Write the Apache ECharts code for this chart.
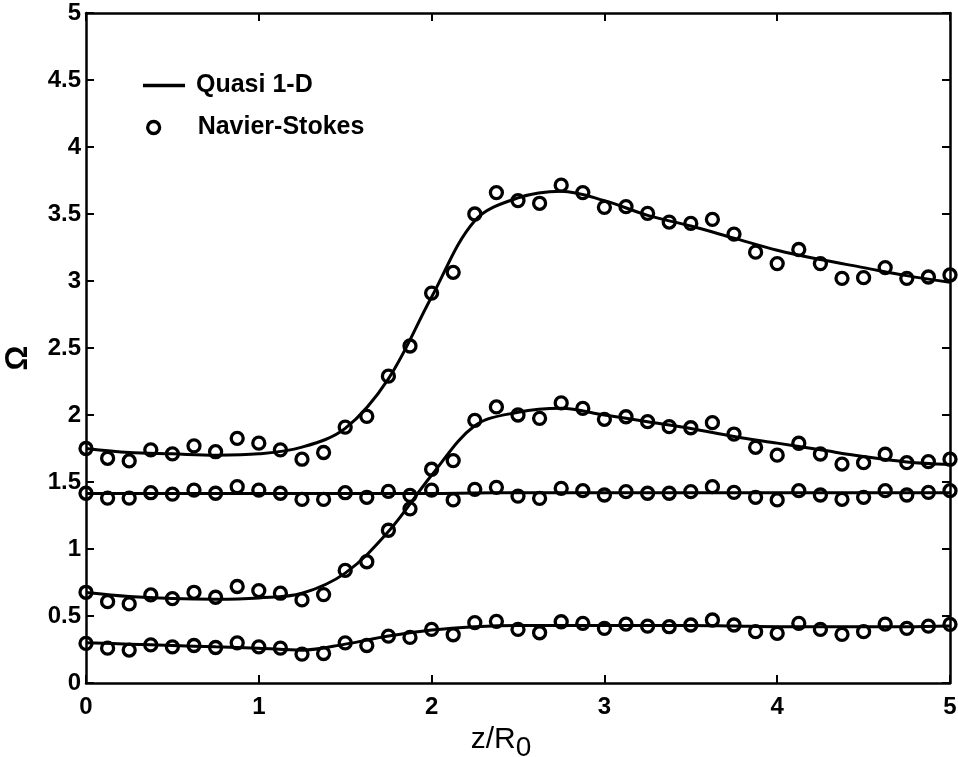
<!DOCTYPE html>
<html>
<head>
<meta charset="utf-8">
<script src="https://cdn.jsdelivr.net/npm/echarts@6/dist/echarts.min.js"></script>
<style>
html,body{margin:0;padding:0;background:#fff;}
#chart{width:958px;height:757px;}
</style>
</head>
<body>
<div id="chart"></div>
<script>
// Tick labels
const xTicks = [0, 1, 2, 3, 4, 5];
const yTicks = [0, 0.5, 1, 1.5, 2, 2.5, 3, 3.5, 4, 4.5, 5];

// Quasi 1-D curves (z/R0 sampled at 0.25)
const lineZ = [0, 0.25, 0.5, 0.75, 1, 1.25, 1.5, 1.75, 2, 2.25, 2.5, 2.75, 3, 3.25, 3.5, 3.75, 4, 4.25, 4.5, 4.75, 5];
const quasiTop = [1.75, 1.72, 1.71, 1.70, 1.71, 1.76, 1.90, 2.27, 2.88, 3.45, 3.62, 3.67, 3.60, 3.49, 3.41, 3.32, 3.23, 3.16, 3.10, 3.04, 2.99];
const quasiSecond = [0.675, 0.645, 0.63, 0.625, 0.635, 0.67, 0.82, 1.13, 1.55, 1.92, 2.02, 2.05, 2.00, 1.95, 1.90, 1.84, 1.79, 1.74, 1.69, 1.65, 1.63];
const quasiThird = [1.415, 1.415, 1.415, 1.415, 1.415, 1.415, 1.415, 1.415, 1.415, 1.418, 1.42, 1.42, 1.42, 1.42, 1.42, 1.42, 1.42, 1.42, 1.42, 1.42, 1.42];
const quasiBottom = [0.30, 0.29, 0.28, 0.27, 0.26, 0.245, 0.29, 0.35, 0.395, 0.42, 0.43, 0.43, 0.43, 0.43, 0.43, 0.425, 0.42, 0.42, 0.42, 0.42, 0.425];

// Navier-Stokes points (z/R0 sampled at 0.125)
const nsZ = [0, 0.125, 0.25, 0.375, 0.5, 0.625, 0.75, 0.875, 1, 1.125, 1.25, 1.375, 1.5, 1.625, 1.75, 1.875, 2, 2.125, 2.25, 2.375, 2.5, 2.625, 2.75, 2.875, 3, 3.125, 3.25, 3.375, 3.5, 3.625, 3.75, 3.875, 4, 4.125, 4.25, 4.375, 4.5, 4.625, 4.75, 4.875, 5];
const nsTop = [1.75, 1.677, 1.657, 1.74, 1.71, 1.77, 1.726, 1.826, 1.79, 1.74, 1.67, 1.72, 1.91, 1.99, 2.29, 2.515, 2.91, 3.065, 3.50, 3.66, 3.60, 3.58, 3.715, 3.66, 3.55, 3.555, 3.505, 3.44, 3.43, 3.46, 3.35, 3.215, 3.13, 3.235, 3.13, 3.02, 3.025, 3.10, 3.02, 3.03, 3.045];
const nsSecond = [0.677, 0.607, 0.59, 0.657, 0.63, 0.677, 0.64, 0.72, 0.69, 0.67, 0.62, 0.66, 0.84, 0.905, 1.14, 1.30, 1.595, 1.66, 1.96, 2.06, 2.0, 1.975, 2.09, 2.05, 1.968, 1.987, 1.95, 1.913, 1.905, 1.943, 1.858, 1.759, 1.70, 1.789, 1.709, 1.634, 1.644, 1.707, 1.644, 1.652, 1.67];
const nsThird = [1.416, 1.38, 1.38, 1.42, 1.41, 1.44, 1.416, 1.465, 1.44, 1.416, 1.37, 1.37, 1.42, 1.386, 1.43, 1.40, 1.44, 1.366, 1.445, 1.46, 1.395, 1.378, 1.453, 1.435, 1.403, 1.428, 1.416, 1.416, 1.428, 1.465, 1.423, 1.386, 1.366, 1.435, 1.403, 1.371, 1.386, 1.435, 1.403, 1.423, 1.435];
const nsBottom = [0.296, 0.26, 0.246, 0.284, 0.27, 0.28, 0.265, 0.30, 0.27, 0.26, 0.216, 0.22, 0.30, 0.28, 0.35, 0.34, 0.40, 0.36, 0.45, 0.46, 0.40, 0.375, 0.457, 0.445, 0.408, 0.44, 0.425, 0.42, 0.433, 0.47, 0.433, 0.383, 0.371, 0.445, 0.40, 0.363, 0.383, 0.44, 0.408, 0.425, 0.438];

const FONT = 'Liberation Sans, Arial, Helvetica, sans-serif';
const pair = (xs, ys) => xs.map((x, i) => [x, ys[i]]);

const lineSeries = [quasiTop, quasiSecond, quasiThird, quasiBottom].map(v => ({
  name: 'Quasi 1-D',
  type: 'line',
  data: pair(lineZ, v),
  smooth: 0.35,
  symbol: 'none',
  showSymbol: false,
  lineStyle: { color: '#000', width: 3 },
  itemStyle: { color: '#000' },
  z: 2,
  silent: true
}));

const pointSeries = [nsTop, nsSecond, nsThird, nsBottom].map(v => ({
  name: 'Navier-Stokes',
  type: 'scatter',
  data: pair(nsZ, v),
  symbol: 'circle',
  symbolSize: 12,
  clip: false,
  itemStyle: { color: 'rgba(0,0,0,0)', borderColor: '#000', borderWidth: 3.3, opacity: 1 },
  z: 3,
  silent: true
}));

const axisCommon = {
  axisLine: { show: true, onZero: false, lineStyle: { color: '#000', width: 2.5 } },
  axisTick: { show: true, inside: true, length: 8, lineStyle: { color: '#000', width: 2 } },
  splitLine: { show: false }
};

const option = {
  backgroundColor: '#fff',
  animation: false,
  grid: { left: 86, right: 8, top: 13, bottom: 74, containLabel: false, outerBoundsMode: 'none' },
  legend: [
    {
      data: [{ name: 'Quasi 1-D', icon: 'rect', itemStyle: { color: '#000' } }],
      left: 143, top: 73, padding: 0,
      itemWidth: 42, itemHeight: 3.5,
      textStyle: { fontFamily: FONT, fontSize: 25, fontWeight: 'bold', color: '#000', padding: [0, 0, 0, 6] }
    },
    {
      data: [{ name: 'Navier-Stokes', icon: 'circle',
               itemStyle: { color: 'rgba(0,0,0,0)', borderColor: '#000', borderWidth: 3.3 } }],
      left: 146, top: 115, padding: 0,
      itemWidth: 12, itemHeight: 12,
      formatter: '{p|}{t|{name}}',
      textStyle: {
        fontFamily: FONT, fontSize: 25, fontWeight: 'bold', color: '#000',
        rich: {
          p: { width: 33 },
          t: { fontFamily: FONT, fontSize: 25, fontWeight: 'bold', color: '#000' }
        }
      }
    }
  ],
  xAxis: [
    Object.assign({}, axisCommon, {
      type: 'value', position: 'bottom', min: 0, max: 5, interval: 1,
      axisLabel: { color: '#000', fontFamily: FONT, fontSize: 24, fontWeight: 'bold', margin: 12,
        formatter: v => xTicks.includes(v) ? String(v) : '' },
      name: '{n|z/R}{s|0}',
      nameLocation: 'middle', nameGap: 42,
      nameTextStyle: {
        padding: [0, 34, 0, 0],
        rich: {
          n: { fontFamily: FONT, fontSize: 30, color: '#000', padding: [0, 0, 16, 0] },
          s: { fontFamily: FONT, fontSize: 28, color: '#000' }
        }
      }
    }),
    Object.assign({}, axisCommon, {
      type: 'value', position: 'top', min: 0, max: 5, interval: 1,
      axisLabel: { show: false }
    })
  ],
  yAxis: [
    Object.assign({}, axisCommon, {
      type: 'value', position: 'left', min: 0, max: 5, interval: 0.5,
      axisLabel: { color: '#000', fontFamily: FONT, fontSize: 24, fontWeight: 'bold', margin: 5,
        formatter: v => yTicks.includes(v) ? String(v) : '' },
      name: 'Ω', nameLocation: 'middle', nameGap: 52, nameRotate: 90,
      nameTextStyle: { fontFamily: FONT, fontSize: 31, fontWeight: 'bold', color: '#000', padding: [0, 20, 0, 0] }
    }),
    Object.assign({}, axisCommon, {
      type: 'value', position: 'right', min: 0, max: 5, interval: 0.5,
      axisLabel: { show: false }
    })
  ],
  series: lineSeries.concat(pointSeries)
};

const chart = echarts.init(document.getElementById('chart'), null, { renderer: 'canvas' });
chart.setOption(option);
</script>
</body>
</html>
